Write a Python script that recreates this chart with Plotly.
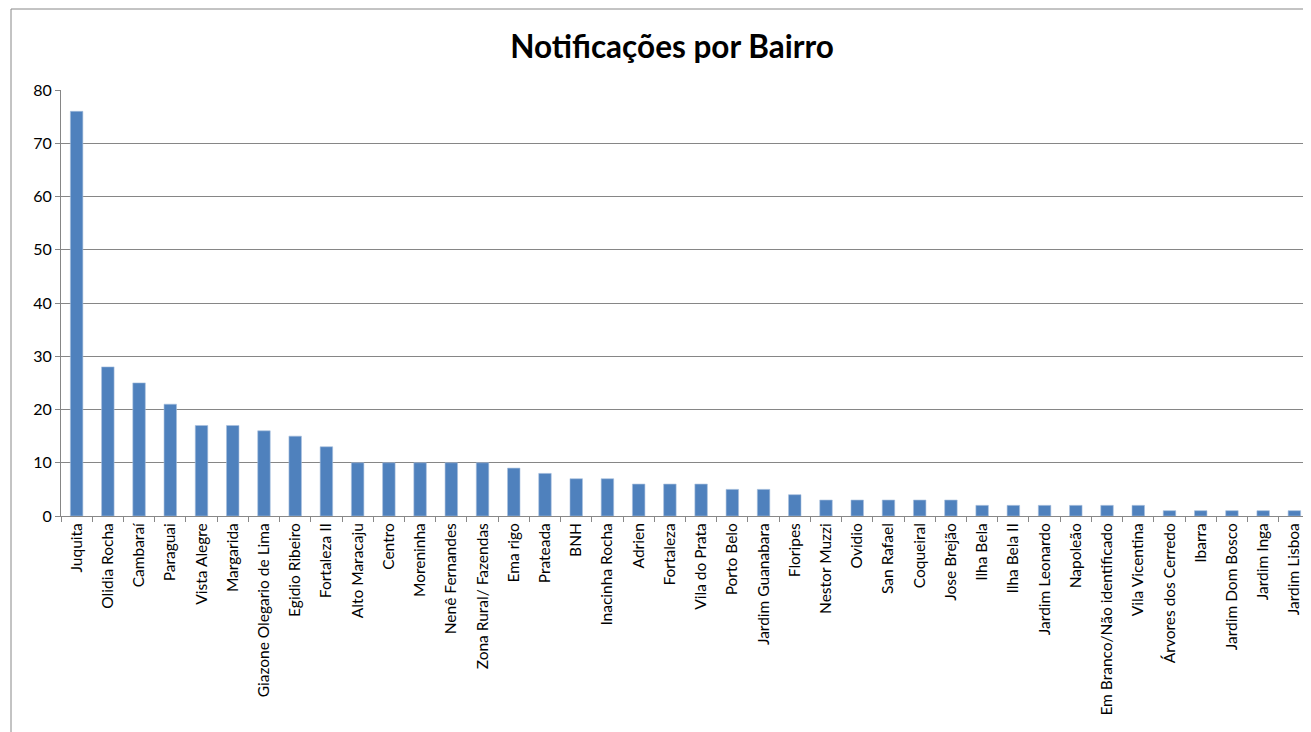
import plotly.graph_objects as go

bairros = ["Juquita", "Olidia Rocha", "Cambaraí", "Paraguai", "Vista Alegre", "Margarida",
           "Giazone Olegario de Lima", "Egidio Ribeiro", "Fortaleza II", "Alto Maracaju",
           "Centro", "Moreninha", "Nenê Fernandes", "Zona Rural/ Fazendas", "Ema rigo",
           "Prateada", "BNH", "Inacinha Rocha", "Adrien", "Fortaleza", "Vila do Prata",
           "Porto Belo", "Jardim Guanabara", "Floripes", "Nestor Muzzi", "Ovidio",
           "San Rafael", "Coqueiral", "Jose Brejão", "Ilha Bela", "Ilha Bela II",
           "Jardim Leonardo", "Napoleão", "Em Branco/Não identificado", "Vila Vicentina",
           "Árvores dos Cerredo", "Ibarra", "Jardim Dom Bosco", "Jardim Inga", "Jardim Lisboa"]
notificacoes = [76, 28, 25, 21, 17, 17, 16, 15, 13, 10, 10, 10, 10, 10, 9, 8, 7, 7, 6, 6,
                6, 5, 5, 4, 3, 3, 3, 3, 3, 2, 2, 2, 2, 2, 2, 1, 1, 1, 1, 1]
y_ticks = [0, 10, 20, 30, 40, 50, 60, 70, 80]

FONT = "Lato"

fig = go.Figure(go.Bar(
    x=bairros, y=notificacoes,
    marker=dict(color="#4F81BD", line=dict(color="#A7BFDE", width=0.6)),
    width=0.4,
))

fig.update_layout(
    width=1303, height=724,
    margin=dict(l=53, r=1, t=82, b=216),
    paper_bgcolor="white", plot_bgcolor="white",
    showlegend=False,
    font=dict(family=FONT, color="black", size=15),
    title=dict(text="<b>Notificações por Bairro</b>", x=0.5096, xanchor="center",
               y=0.946, yanchor="middle", font=dict(family=FONT, size=31.5, color="black")),
    xaxis=dict(
        type="category", tickangle=-90, showgrid=False,
        showline=True, linecolor="#888888", linewidth=1,
        ticks="outside", ticklen=5, tickcolor="#888888", tickson="boundaries",
        tickfont=dict(family=FONT, size=15.5, color="black"),
        range=[-0.5, 39.5],
    ),
    yaxis=dict(
        range=[0, 80], tickvals=y_ticks,
        showgrid=True, gridcolor="#868686", gridwidth=1,
        showline=True, linecolor="#868686", linewidth=1,
        ticks="outside", ticklen=5, tickcolor="#868686",
        tickfont=dict(family=FONT, size=16, color="black"),
        zeroline=False,
    ),
    shapes=[dict(type="rect", xref="paper", yref="paper",
                 x0=(3 - 53) / 1249, x1=1.02, y0=-0.8, y1=(508 - 1) / 426,
                 line=dict(color="#888888", width=1), fillcolor="rgba(0,0,0,0)",
                 layer="below")],
)

fig.write_html("out.html")
